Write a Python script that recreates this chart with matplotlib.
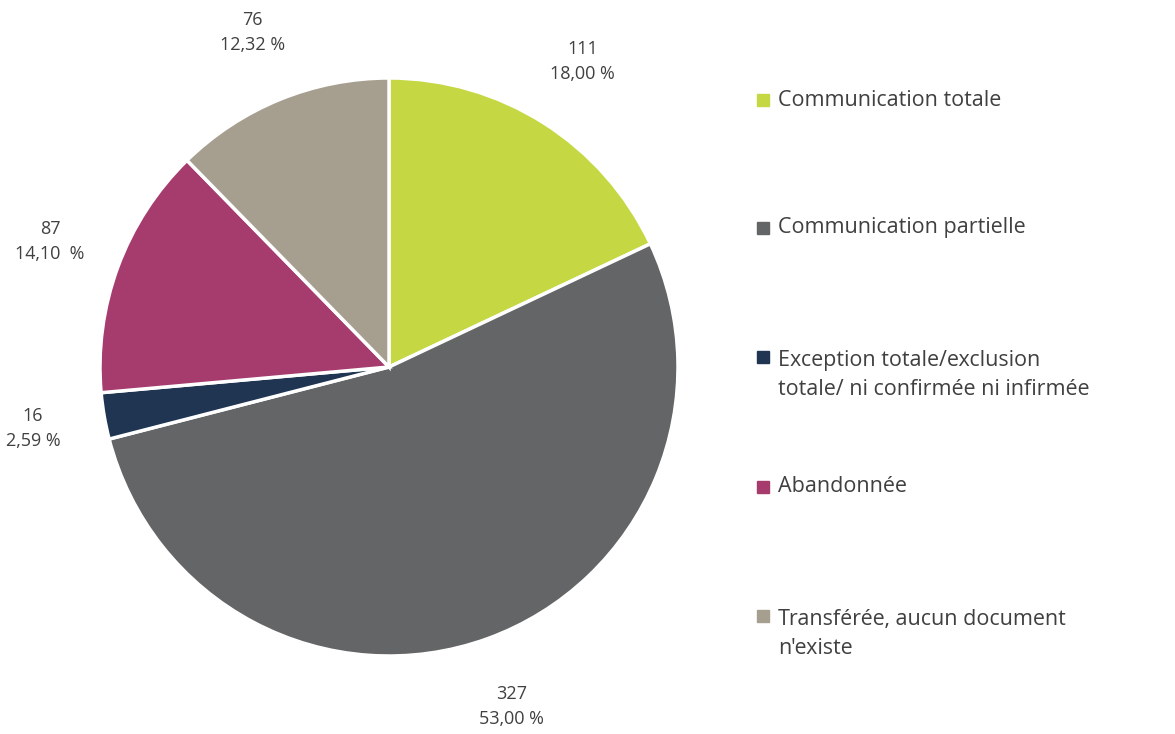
import matplotlib
matplotlib.use("Agg")
import matplotlib.pyplot as plt
from matplotlib.patches import Rectangle

categories = ["Communication totale", "Communication partielle",
              "Exception totale/exclusion\ntotale/ ni confirmée ni infirmée",
              "Abandonnée", "Transférée, aucun document\nn'existe"]
counts = [111, 327, 16, 87, 76]
pct_labels = ["18,00 %", "53,00 %", "2,59 %", "14,10  %", "12,32 %"]
colors = ["#C5D843", "#646567", "#1F3552", "#A63C6E", "#A69F90"]

fig = plt.figure(figsize=(11.75, 7.34), dpi=100)
R = 289
half = 1.3 * R
cx, cy = 389, 367
ax = fig.add_axes([(cx - half) / 1175, (734 - cy - half) / 734, 2 * half / 1175, 2 * half / 734])
labels = [f"{c}\n{p}" for c, p in zip(counts, pct_labels)]
wedges, texts = ax.pie(counts, colors=colors, startangle=90, counterclock=False,
                       labels=labels, labeldistance=1.25,
                       wedgeprops=dict(edgecolor="white", linewidth=2.5),
                       textprops=dict(fontsize=13, color="#404040", family="Open Sans",
                                      ha="center", va="center", linespacing=1.5))
ax.set_xlim(-1.3, 1.3); ax.set_ylim(-1.3, 1.3); ax.set_aspect("equal")
ax.axis("off")

ys = [100, 228, 375, 487, 634]
for cat, col, y in zip(categories, colors, ys):
    nlines = cat.count("\n") + 1
    top = y - (nlines - 1) * 18
    fig.patches.append(Rectangle(((757) / 1175, (734 - top - 6) / 734), 12 / 1175, 12 / 734,
                                 transform=fig.transFigure, color=col))
    fig.text(778 / 1175, (734 - y) / 734, cat, fontsize=15.5, family="Open Sans",
             color="#404040", va="center", ha="left", linespacing=1.45)

fig.savefig("out.png", dpi=100)
